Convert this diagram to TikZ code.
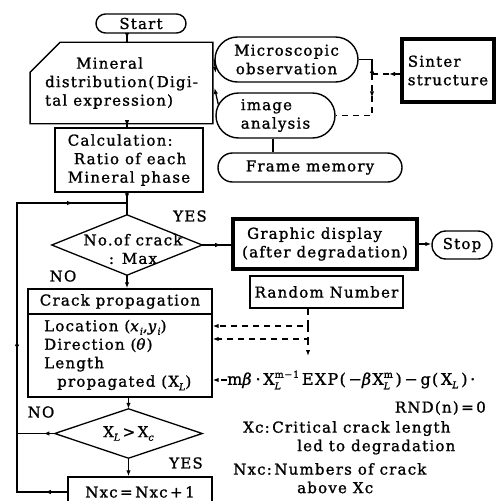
\documentclass[tikz,border=0pt]{standalone}
\usepackage{fontspec}
\setmainfont{DejaVu Serif}[LetterSpace=8, FakeBold=1.2]
\usetikzlibrary{arrows.meta,shapes.misc,decorations.markings,calc}
\newcommand\fz{\fontsize{15}{18.5}\selectfont}
\newcommand\SbSp[2]{\begingroup\fontsize{9.5}{9.5}\selectfont\rlap{\raisebox{-4.5pt}{\itshape #2}}\raisebox{7pt}{#1}\endgroup}
\newcommand\Sb[1]{\begingroup\fontsize{9.5}{9.5}\selectfont\raisebox{-3.5pt}{\itshape #1}\endgroup}
\tikzset{
  every node/.style={font=\fz, inner sep=0pt},
  ln/.style={line width=1.3pt},
  bx/.style={draw, line width=1.4pt},
  thick bx/.style={draw, line width=3.2pt},
  pill/.style={draw, line width=1.4pt, rounded corners=#1},
  tip/.style={-{Latex[length=6pt,width=4.5pt]}},
  mid/.style={postaction={decorate, decoration={markings,
     mark=at position #1 with {\arrow{Latex[length=6pt,width=4.5pt]}}}}},
  dsh/.style={dash pattern=on 6pt off 5pt},
}
\begin{document}
\begin{tikzpicture}[x=1pt,y=-1pt]
\useasboundingbox (0,0) rectangle (498,501);
\fill[white] (0,0) rectangle (498,501);
\clip (0,0) rectangle (498,501);

% axis coordinates
\coordinate (ax) at (127,0);
\coordinate (lx) at (17,0);
\coordinate (J) at (127,203);
\coordinate (fx) at (273,0);
\coordinate (sj) at (372,74);
\coordinate (rx) at (308,0);
\coordinate (yloc) at (0,326);
\coordinate (ydir) at (0,339);
\coordinate (rend) at (308,356);

% main column
\node[pill=9.5pt, minimum width=90pt, minimum height=19pt] (start) at (141,23.5) {Start};
\node[draw, line width=1.4pt, chamfered rectangle, chamfered rectangle corners=north west,
      chamfered rectangle xsep=15pt, chamfered rectangle ysep=15pt,
      minimum width=163pt, minimum height=60pt, align=left] (mineral) at (121.5,83)
      {\hspace*{31pt}Mineral\\distribution(\,Digi-\\tal expression)};
\node[bx, minimum width=148pt, minimum height=64pt, align=left] (calc) at (129,160)
      {Calculation:\\\hspace*{6pt}Ratio of each\\Mineral phase};
\node[minimum width=150pt, minimum height=60pt] (dia1) at (127,245) {};
\draw[ln] (dia1.north) -- (dia1.east) -- (dia1.south) -- (dia1.west) -- cycle;
\node[align=center] (dia1txt) at (133,249) {No.of crack\\: Max};
\node[bx, minimum width=184pt, minimum height=25pt] (crackh) at (120,301.5) {Crack propagation};
\node[bx, minimum width=184pt, minimum height=83pt] (crackb) at (120,355.5) {};
\node[anchor=west, align=left] (cracktxt) at (44,355)
      {Location (\textit{x}\Sb{i},\textit{y}\Sb{i})\\Direction (\textit{θ})\\Length\\\hspace*{13pt}propagated (X\Sb{L})};
\node[minimum width=147pt, minimum height=49pt] (dia2) at (128.5,433.5) {X\Sb{L}\,>\,X\Sb{c}};
\draw[ln] (dia2.north) -- (dia2.east) -- (dia2.south) -- (dia2.west) -- cycle;
\node[bx, minimum width=144pt, minimum height=30pt] (nxc) at (140,492) {Nxc\,=\,Nxc\,+\,1};

% labels
\node (yes1) at (190,216) {YES};
\node (no1) at (63,276) {NO};
\node (no2) at (41,412) {NO};
\node (yes2) at (186,463) {YES};

% right upper
\node[pill=22.5pt, minimum width=143pt, minimum height=45pt, align=center] (micro) at (286.5,59.5)
      {Microscopic\\observation};
\node[pill=22.5pt, minimum width=119pt, minimum height=45pt, align=left] (image) at (275.5,115.5)
      {image\\analysis};
\node[pill=14.5pt, minimum width=184pt, minimum height=29pt] (frame) at (310,167.5) {Frame memory};
\node[thick bx, minimum width=92pt, minimum height=63pt, align=left] (sinter) at (448,70.5)
      {Sinter\\structure};

% right middle
\node[thick bx, minimum width=184pt, minimum height=50pt, align=left] (graphic) at (325,244)
      {\hspace*{5pt}Graphic display\\(after degradation)};
\node[pill=14pt, minimum width=60pt, minimum height=28pt] (stop) at (462,245) {Stop};
\node[bx, minimum width=153pt, minimum height=32pt] (random) at (326.5,292) {Random Number};

% formula and notes
\node[anchor=west, font=\fontsize{16}{18.5}\selectfont] (formula) at (227,380)
  {m\textit{β}\,·\,X\SbSp{m−1}{L}\,EXP(\,−\textit{β}X\SbSp{m}{L}\,)\,−\,g(\,X\Sb{L}\,)\,·};
\node[anchor=east] (rnd) at (486,408) {RND(n)\,=\,0};
\node[anchor=north west, align=left] (notexc) at (243,421)
  {Xc:\,Critical crack length\\\hspace*{54pt}led to degradation};
\node[anchor=north west, align=left] (notenxc) at (233,463)
  {Nxc:\,Numbers of crack\\\hspace*{64pt}above Xc};

% connectors, main flow
\draw[ln, mid=0.65] (start.south -| ax) -- (mineral.north -| ax);
\draw[ln, mid=0.6] (mineral.south -| ax) -- (calc.north -| ax);
\draw[ln, mid=0.3] (calc.south -| ax) -- (dia1.north);
\draw[ln, mid=0.65] (dia1.east) -- (dia1.east -| graphic.west);
\draw[ln, tip] (graphic.east) -- (graphic.east -| stop.west);
\draw[ln, tip] (dia1.south) -- (dia1.south |- crackh.north);
\draw[ln, tip] (crackb.south -| dia2.north) -- (dia2.north);
\draw[ln, tip] (dia2.south) -- (dia2.south |- nxc.north);
\draw[ln, mid=0.05, mid=0.45, mid=0.88] (nxc.west) -- (nxc.west -| lx) -- (J -| lx) -- (J);
\draw[ln, mid=0.3] (dia2.west) -- (dia2.west -| lx);

% connectors, upper right
\draw[ln, tip] (micro.west) -- ($(mineral.east)+(2,-10)$);
\draw[ln, tip] ($(image.west)+(3,-11)$) -- ($(mineral.east)+(1,5)$);
\draw[ln, dsh, mid=0.4] (sinter.west |- sj) -- (sj);
\draw[ln, mid=0.25] (sj) -- (sj |- micro.east) -- (micro.east);
\draw[ln, dsh, mid=0.3] (sj) -- (sj |- image.east) -- (image.east);
\draw[ln] (image.south -| fx) -- (frame.north -| fx);

% random number connectors
\draw[ln, dsh, tip] (random.south -| rx) -- (rx |- yloc) -- (yloc -| crackb.east);
\draw[ln, dsh, tip] (rx |- yloc) -- (rx |- ydir) -- (ydir -| crackb.east);
\draw[ln, dsh, tip] (rx |- ydir) -- (rend);
\draw[ln, dsh, tip] (formula.west) -- (formula.west -| crackb.east);
\end{tikzpicture}
\end{document}
